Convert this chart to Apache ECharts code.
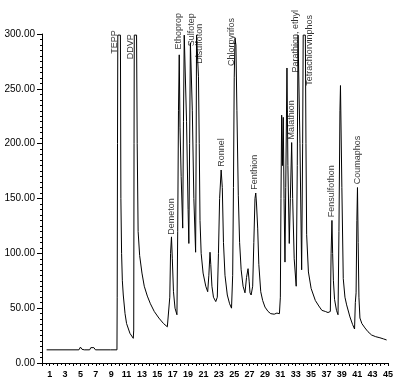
<!DOCTYPE html>
<html>
<head>
<meta charset="utf-8">
<script src="https://cdn.jsdelivr.net/npm/echarts@6/dist/echarts.min.js"></script>
<style>
html,body{margin:0;padding:0;background:#fff;}
#chart{width:403px;height:381px;}
</style>
</head>
<body>
<div id="chart"></div>
<script>
// Chromatogram trace: [retention time (min), response]
var trace = [
  [0.6,12],[4.8,12],[5.0,14.5],[5.2,12.5],[5.5,12],[6.2,12],[6.35,14],[6.55,12.5],[6.75,14],[6.95,12],
  [8.9,12],[9.0,13.5],[9.15,12],[9.75,12],
  // TEPP
  [9.78,60],[9.82,200],[9.86,299],[10.2,299],[10.26,150],[10.35,100],[10.45,75],[10.57,62],[10.8,45],[11.0,36],[11.44,27],[11.87,22.5],
  // DDVP
  [11.93,30],[11.97,200],[12.0,299],[12.3,299],[12.38,200],[12.5,120],[12.7,98],[13.0,82],[13.3,70],[13.7,61],[14.1,54],[14.6,47],[15.2,41],[15.8,36],[16.3,33],[16.55,32],
  // Demeton
  [16.62,60],[16.72,100],[16.84,115],[16.95,95],[17.1,65],[17.3,50],[17.55,44],
  // Ethoprop .. Disulfoton cluster
  [17.65,120],[17.75,230],[17.85,281],[17.95,215],[18.1,170],[18.3,123],
  [18.4,220],[18.5,299],[18.7,299],[18.8,220],[19.0,140],[19.1,109],
  [19.2,200],[19.3,292],[19.45,292],[19.55,230],[19.75,150],[19.98,101],
  [20.05,200],[20.1,299],[20.3,299],[20.35,261],[20.45,200],[20.55,130],[20.7,100],[20.95,82],[21.3,70],[21.55,65],
  [21.7,80],[21.85,101],[21.95,90],[22.1,70],[22.3,60],[22.6,56],
  // Ronnel
  [22.8,60],[22.95,100],[23.1,150],[23.3,176],[23.45,160],[23.6,110],[23.8,80],[24.1,62],[24.4,54],[24.65,50],
  // Chlorpyrifos
  [24.8,80],[24.9,160],[25.0,260],[25.1,296],[25.22,290],[25.35,230],[25.53,153],[25.7,110],[25.9,85],[26.15,70],[26.4,64],
  [26.6,78],[26.8,86],[26.95,74],[27.05,64],[27.2,62],
  // Fenthion
  [27.4,70],[27.55,110],[27.7,150],[27.8,155],[27.9,145],[28.05,123],[28.2,90],[28.45,65],[28.7,57],[29.0,51],[29.4,47],[29.75,45],[30.2,44.5],[30.55,45.5],[30.72,47],[30.88,45],
  // 31-35 cluster
  [31.0,60],[31.08,150],[31.17,226],[31.27,180],[31.38,224],[31.48,150],[31.6,92],[31.7,160],[31.86,269],[31.98,180],[32.16,109],
  [32.3,150],[32.47,201],[32.6,150],[32.8,95],[33.06,70],[33.2,180],[33.3,299],[33.45,299],[33.55,200],[33.77,85],
  [33.9,200],[33.97,299],[34.25,299],[34.33,200],[34.42,117],[34.65,83],[35.0,68],[35.55,57],[36.0,52],[36.4,48],[36.85,47],[37.2,46],[37.5,47],
  // Fensulfothon
  [37.6,100],[37.71,130],[37.8,100],[37.9,75],[38.05,58],[38.3,48],[38.5,44],
  // unlabeled
  [38.62,120],[38.75,230],[38.82,253],[38.92,253],[39.0,160],[39.18,77],[39.4,60],[39.62,53],[40.05,42],[40.4,35],[40.65,31],
  // Coumaphos
  [40.75,55],[40.85,64],[40.95,130],[41.03,160],[41.12,110],[41.22,60],[41.35,41],[41.6,36],[42.0,32],[42.4,28.5],[42.87,25.5],[43.4,24],[43.95,23],[44.4,22],[44.82,21]
];

// Peak labels: [time, response at label foot, name]
var peakLabels = [
  [9.4,281,'TEPP'],
  [11.55,276,'DDVP'],
  [16.84,116,'Demeton'],
  [17.8,285,'Ethoprop'],
  [19.45,288,'Sulfotep'],
  [20.5,272,'Disulfoton'],
  [23.3,178,'Ronnel'],
  [24.6,270,'Chlorpyrifos'],
  [27.7,157,'Fenthion'],
  [32.4,203,'Malathion'],
  [32.95,264,'Parathion, ethyl'],
  [34.85,252,'Tetrachlorvinphos'],
  [37.7,132,'Fensulfothon'],
  [41.03,162,'Coumaphos']
];

var yTicks = [0,50,100,150,200,250,300];
var xMin = 0, xMax = 45;

var chart = echarts.init(document.getElementById('chart'), null, {renderer:'canvas'});
chart.setOption({
  animation:false,
  backgroundColor:'#fff',
  grid:{left:42,right:15,top:34,bottom:18,containLabel:false},
  xAxis:{
    type:'value',min:xMin,max:xMax,interval:1,
    axisLine:{show:true,lineStyle:{color:'#000',width:1}},
    axisTick:{show:true,length:3,lineStyle:{color:'#000'}},
    minorTick:{show:true,splitNumber:2,length:2,lineStyle:{color:'#000'}},
    splitLine:{show:false},
    axisLabel:{
      margin:7,color:'#000',fontSize:9,fontWeight:'bold',fontFamily:'Liberation Sans',
      formatter:function(v){return (v%2===1)?String(v):'';}
    }
  },
  yAxis:{
    type:'value',min:yTicks[0],max:yTicks[yTicks.length-1],interval:50,
    axisLine:{show:true,lineStyle:{color:'#000',width:1}},
    axisTick:{show:true,length:5,lineStyle:{color:'#000'}},
    minorTick:{show:true,splitNumber:10,length:2,lineStyle:{color:'#000'}},
    splitLine:{show:false},
    axisLabel:{
      margin:7,color:'#000',fontSize:10,fontFamily:'Liberation Sans',
      formatter:function(v){return v.toFixed(2);}
    }
  },
  series:[
    {
      type:'line',data:trace,symbol:'none',smooth:false,clip:true,
      lineStyle:{color:'#000',width:1},
      silent:true
    },
    {
      type:'scatter',data:peakLabels,symbolSize:0,
      encode:{x:0,y:1},
      label:{
        show:true,position:'top',distance:1,rotate:90,align:'left',verticalAlign:'middle',
        color:'#000',fontSize:9,fontFamily:'Liberation Sans',
        formatter:function(p){return p.data[2];}
      },
      silent:true
    }
  ]
});
</script>
</body>
</html>
